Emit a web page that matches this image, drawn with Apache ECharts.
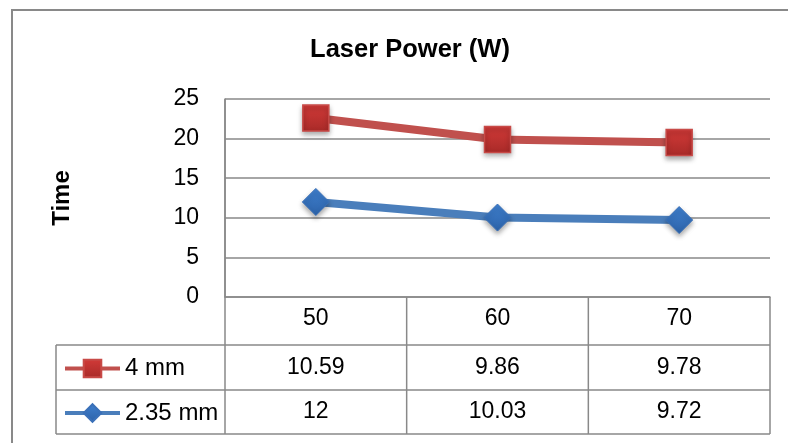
<!DOCTYPE html>
<html>
<head>
<meta charset="utf-8">
<script src="https://cdn.jsdelivr.net/npm/echarts@6/dist/echarts.min.js"></script>
<style>
html,body{margin:0;padding:0;background:#fff;}
#chart{width:788px;height:443px;}
</style>
</head>
<body>
<div id="chart"></div>
<script>
// ---- data ----
const categories = ['50', '60', '70'];
const seriesNames = ['4 mm', '2.35 mm'];
const values4mm = [10.59, 9.86, 9.78];
const values235mm = [12, 10.03, 9.72];
const yTicks = [0, 5, 10, 15, 20, 25];
const titleText = 'Laser Power (W)';
const yAxisName = 'Time';

// ---- styles / layout ----
const FONT = '"Liberation Sans", Arial, sans-serif';
const GRID_LEFT = 225, GRID_TOP = 99, GRID_W = 545, GRID_H = 198;
const ROW_TOPS = [297, 345, 390, 434]; // header, row1, row2, bottom
const TABLE_LEFT = 56;
const LINE_COLOR = '#898989';
const RED = '#C0504D', BLUE = '#4A7EBB';

const chart = echarts.init(document.getElementById('chart'), null, {renderer: 'canvas'});

function grad(c1, c2) {
  return new echarts.graphic.LinearGradient(0, 0, 0, 1, [
    {offset: 0, color: c1}, {offset: 1, color: c2}
  ]);
}

const legendCommon = {
  left: 63,
  itemWidth: 55, itemHeight: 22, padding: 0,
  lineStyle: {width: 4},
  textStyle: {fontFamily: FONT, fontSize: 24, color: '#000'},
  selectedMode: false
};

const option = {
  backgroundColor: '#fff',
  animation: false,
  title: {
    text: titleText,
    left: 405,
    top: 32,
    textAlign: 'center',
    textStyle: {fontFamily: FONT, fontSize: 25.5, fontWeight: 'bold', color: '#000'}
  },
  legend: [
    Object.assign({}, legendCommon, {data: [seriesNames[0]], top: (ROW_TOPS[1] + ROW_TOPS[2]) / 2 - 11}),
    Object.assign({}, legendCommon, {data: [seriesNames[1]], top: (ROW_TOPS[2] + ROW_TOPS[3]) / 2 - 11})
  ],
  grid: {left: GRID_LEFT, top: GRID_TOP, width: GRID_W, height: GRID_H, containLabel: false},
  xAxis: {
    type: 'category',
    data: categories,
    boundaryGap: true,
    axisLine: {show: true, lineStyle: {color: LINE_COLOR, width: 1.5}},
    axisTick: {show: false},
    axisLabel: {margin: 10, fontFamily: FONT, fontSize: 23, color: '#000'}
  },
  yAxis: {
    type: 'value',
    min: yTicks[0], max: yTicks[yTicks.length - 1], interval: 5,
    name: yAxisName,
    nameLocation: 'middle',
    nameRotate: 90,
    nameGap: 151,
    nameTextStyle: {fontFamily: FONT, fontSize: 24, fontWeight: 'bold', color: '#000'},
    axisLine: {show: true, lineStyle: {color: LINE_COLOR, width: 1.5}},
    axisTick: {show: false},
    splitLine: {show: true, lineStyle: {color: LINE_COLOR, width: 1.5}},
    axisLabel: {margin: 26, fontFamily: FONT, fontSize: 23, color: '#000'}
  },
  series: [
    {
      name: seriesNames[1],
      type: 'line',
      stack: 'total',
      data: values235mm,
      symbol: 'diamond',
      symbolSize: 27,
      lineStyle: {color: BLUE, width: 8},
      itemStyle: {
        color: grad('#3F80CF', '#2C62A8'),
        borderColor: '#3A70B8', borderWidth: 1,
        shadowBlur: 5, shadowOffsetY: 3, shadowColor: 'rgba(0,0,0,0.35)'
      },
      z: 3
    },
    {
      name: seriesNames[0],
      type: 'line',
      stack: 'total',
      data: values4mm,
      symbol: 'rect',
      symbolSize: 26,
      lineStyle: {color: RED, width: 8},
      itemStyle: {
        color: grad('#D23A38', '#A82A28'),
        borderColor: '#C84A47', borderWidth: 1.5,
        shadowBlur: 5, shadowOffsetY: 3, shadowColor: 'rgba(0,0,0,0.35)'
      },
      z: 4
    }
  ]
};
chart.setOption(option);

// ---- data table drawn from the axis scale ----
const centers = categories.map(c => chart.convertToPixel({xAxisIndex: 0}, c));
const band = centers.length > 1 ? centers[1] - centers[0] : GRID_W;
const bounds = [centers[0] - band / 2].concat(centers.map(c => c + band / 2));
const right = bounds[bounds.length - 1];
const left = bounds[0];
const graphics = [];

function line(x1, y1, x2, y2) {
  graphics.push({
    type: 'line', silent: true, z: 1,
    shape: {x1, y1, x2, y2},
    style: {stroke: LINE_COLOR, lineWidth: 1.5}
  });
}
// horizontal rules
line(TABLE_LEFT, ROW_TOPS[1], right, ROW_TOPS[1]);
line(TABLE_LEFT, ROW_TOPS[2], right, ROW_TOPS[2]);
line(TABLE_LEFT, ROW_TOPS[3], right, ROW_TOPS[3]);
// verticals
line(left, GRID_TOP, left, ROW_TOPS[3]);
for (let i = 1; i < bounds.length; i++) line(bounds[i], ROW_TOPS[0], bounds[i], ROW_TOPS[3]);
line(TABLE_LEFT, ROW_TOPS[1], TABLE_LEFT, ROW_TOPS[3]);

const rows = [values4mm, values235mm];
rows.forEach((vals, r) => {
  const cy = (ROW_TOPS[r + 1] + ROW_TOPS[r + 2]) / 2;
  vals.forEach((v, i) => {
    graphics.push({
      type: 'text', silent: true, z: 2,
      x: centers[i], y: cy,
      style: {
        text: String(v), fill: '#000',
        font: '23px ' + FONT,
        align: 'center', verticalAlign: 'middle'
      }
    });
  });
});

// outer chart border
graphics.push({
  type: 'rect', silent: true, z: 0,
  shape: {x: 12, y: 10, width: 800, height: 460},
  style: {fill: null, stroke: LINE_COLOR, lineWidth: 2}
});

chart.setOption({graphic: graphics});
</script>
</body>
</html>
